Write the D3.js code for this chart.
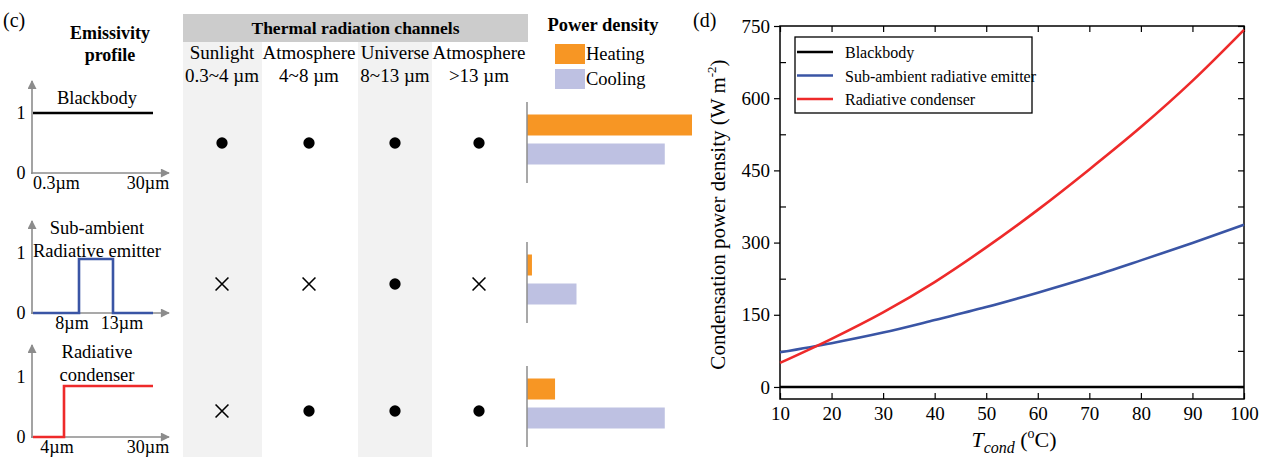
<!DOCTYPE html>
<html>
<head>
<meta charset="utf-8">
<script src="https://cdn.jsdelivr.net/npm/d3@7"></script>
<style>
  html, body { margin: 0; padding: 0; background: #fff; }
  svg { display: block; }
  svg text { font-family: "Liberation Serif", "Times New Roman", Times, serif; }
</style>
</head>
<body>
<svg id="fig" width="1267" height="460"></svg>
<script>
// ---------- Panel (c): emissivity profiles, channels, power density ----------
const structures = ["Blackbody", "Sub-ambient radiative emitter", "Radiative condenser"];
const structureTitles = [["Blackbody"], ["Sub-ambient", "Radiative emitter"], ["Radiative", "condenser"]];

// wavelength (µm) -> emissivity, step profiles
const blackbodyProfile = [[0.3, 1], [30, 1]];
const emitterProfile = [[0.3, 0], [8, 0], [8, 0.9], [13, 0.9], [13, 0], [30, 0]];
const condenserProfile = [[0.3, 0], [4, 0], [4, 0.85], [30, 0.85]];
const profiles = [blackbodyProfile, emitterProfile, condenserProfile];
const profileColors = ["#000000", "#3a55a5", "#ee2a2a"];
const profileTickLabels = [[[0.3, "0.3µm"], [30, "30µm"]], [[8, "8µm"], [13, "13µm"]], [[4, "4µm"], [30, "30µm"]]];

const channelNames = ["Sunlight", "Atmosphere", "Universe", "Atmosphere"];
const channelRanges = ["0.3~4 µm", "4~8 µm", "8~13 µm", ">13 µm"];
// 1 = channel used (dot), 0 = blocked (cross)
const channelOpen = [
  [1, 1, 1, 1],
  [0, 0, 1, 0],
  [0, 1, 1, 1]
];

// relative power density per structure
const heatingPower = [1.0, 0.03, 0.17];
const coolingPower = [0.835, 0.30, 0.835];

// ---------- Panel (d): condensation power density vs T_cond ----------
const tCond = [10, 20, 30, 40, 50, 60, 70, 80, 90, 100];
const blackbodyPower = [0, 0, 0, 0, 0, 0, 0, 0, 0, 0];
const emitterPower = [72, 91, 113, 139, 166, 196, 228, 263, 299, 337];
const condenserPower = [50, 100, 155, 218, 290, 368, 452, 540, 636, 742];
const yTicks = [0, 150, 300, 450, 600, 750];
const xTicks = [10, 20, 30, 40, 50, 60, 70, 80, 90, 100];

const svg = d3.select("#fig");
const ink = "#000";
const axisGrey = "#8c8c8c";

// ===== panel (c) =====
svg.append("text").attr("x", 3).attr("y", 27).attr("font-size", 20).text("(c)");
const epTitle = svg.append("text").attr("x", 110).attr("font-size", 18).attr("font-weight", "bold").attr("text-anchor", "middle");
epTitle.append("tspan").attr("x", 110).attr("y", 39).text("Emissivity");
epTitle.append("tspan").attr("x", 110).attr("y", 61).text("profile");

const rowCenter = [143, 283, 407];
const markY = [143, 284, 411];

const defs = svg.append("defs");
defs.append("marker").attr("id", "arrow").attr("viewBox", "0 0 10 10")
  .attr("refX", 9).attr("refY", 5).attr("markerWidth", 11).attr("markerHeight", 9)
  .attr("markerUnits", "userSpaceOnUse").attr("orient", "auto")
  .append("path").attr("d", "M0,0 L10,5 L0,10 z").attr("fill", axisGrey);

// schematic (non-linear) wavelength axis shared by the three profiles
const wl = d3.scaleLinear().domain([0.3, 4, 8, 13, 30]).range([33, 64, 79, 113, 153]);

profiles.forEach((prof, i) => {
  const zeroY = rowCenter[i] + 30;
  const em = d3.scaleLinear().domain([0, 1]).range([zeroY, zeroY - 60]);
  const g = svg.append("g");
  // axes with arrows
  g.append("line").attr("x1", 32).attr("x2", 32).attr("y1", zeroY + 1).attr("y2", zeroY - 92)
    .attr("stroke", axisGrey).attr("stroke-width", 1.6).attr("marker-end", "url(#arrow)");
  g.append("line").attr("x1", 31).attr("x2", 169).attr("y1", zeroY).attr("y2", zeroY)
    .attr("stroke", axisGrey).attr("stroke-width", 1.6).attr("marker-end", "url(#arrow)");
  g.append("text").attr("x", 21).attr("y", em(0) + 6).attr("font-size", 18).attr("text-anchor", "middle").text("0");
  g.append("text").attr("x", 21).attr("y", em(1) + 6).attr("font-size", 18).attr("text-anchor", "middle").text("1");
  const line = d3.line().x(d => wl(d[0])).y(d => em(d[1]));
  g.append("path").datum(prof).attr("d", line).attr("fill", "none")
    .attr("stroke", profileColors[i]).attr("stroke-width", 2.6);
  profileTickLabels[i].forEach(([w, lab]) => {
    const anchor = (w === 0.3) ? "start" : "middle";
    let xx = wl(w);
    if (w === 30) xx = 148;
    if (w === 4) xx = 57;
    if (w === 8) xx = 72;
    if (w === 13) xx = 122;
    g.append("text").attr("x", xx).attr("y", zeroY + 16).attr("font-size", 18)
      .attr("text-anchor", anchor).text(lab);
  });
  const titles = structureTitles[i];
  const tTop = titles.length === 1 ? rowCenter[i] - 39 : rowCenter[i] - 49;
  titles.forEach((t, k) => {
    g.append("text").attr("x", 97).attr("y", tTop + k * 23).attr("font-size", 18.5)
      .attr("text-anchor", "middle").text(t);
  });
});

// channel table
const colEdges = [183, 262, 358, 432, 528];
const colCenter = [222, 309, 395, 479];
svg.append("rect").attr("x", colEdges[0]).attr("y", 14).attr("width", colEdges[4] - colEdges[0]).attr("height", 28).attr("fill", "#cccccc");
svg.append("text").attr("x", (colEdges[0] + colEdges[4]) / 2).attr("y", 34).attr("font-size", 17.5)
  .attr("font-weight", "bold").attr("text-anchor", "middle").text("Thermal radiation channels");
[0, 2].forEach(c => {
  svg.append("rect").attr("x", colEdges[c]).attr("y", 42).attr("width", colEdges[c + 1] - colEdges[c])
    .attr("height", 415).attr("fill", "#f2f2f2");
});
channelNames.forEach((n, c) => {
  svg.append("text").attr("x", colCenter[c]).attr("y", 59).attr("font-size", 19).attr("text-anchor", "middle").text(n);
  svg.append("text").attr("x", colCenter[c]).attr("y", 82).attr("font-size", 19).attr("text-anchor", "middle").text(channelRanges[c]);
});
const dot = d3.symbol(d3.symbolCircle, 100);
const cross = d3.symbol(d3.symbolX, 110);
channelOpen.forEach((row, r) => {
  row.forEach((open, c) => {
    svg.append("path").attr("transform", `translate(${colCenter[c]},${markY[r]})`)
      .attr("d", open ? dot() : cross())
      .attr("fill", open ? ink : "none").attr("stroke", ink).attr("stroke-width", open ? 0 : 1.6);
  });
});

// power density bars
const powerX = d3.scaleLinear().domain([0, 1]).range([527, 692]);
const heatColor = "#f79624";
const coolColor = "#bec1e2";
svg.append("text").attr("x", 603).attr("y", 31).attr("font-size", 18.5).attr("font-weight", "bold")
  .attr("text-anchor", "middle").text("Power density");
[["Heating", heatColor, 44], ["Cooling", coolColor, 69]].forEach(([lab, col, yy]) => {
  svg.append("rect").attr("x", 555).attr("y", yy).attr("width", 30).attr("height", 20).attr("fill", col);
  svg.append("text").attr("x", 586).attr("y", yy + 16).attr("font-size", 18.5).text(lab);
});
structures.forEach((s, i) => {
  const c = rowCenter[i];
  svg.append("rect").attr("x", powerX(0)).attr("y", c - 28.5).attr("width", powerX(heatingPower[i]) - powerX(0))
    .attr("height", 21).attr("fill", heatColor);
  svg.append("rect").attr("x", powerX(0)).attr("y", c + 0.5).attr("width", powerX(coolingPower[i]) - powerX(0))
    .attr("height", 21).attr("fill", coolColor);
  svg.append("line").attr("x1", powerX(0)).attr("x2", powerX(0)).attr("y1", c - 41).attr("y2", c + 40)
    .attr("stroke", axisGrey).attr("stroke-width", 1.5);
});

// ===== panel (d) =====
svg.append("text").attr("x", 693).attr("y", 27).attr("font-size", 20).text("(d)");
const L = 780, R = 1244, T = 26, B = 399;
const x = d3.scaleLinear().domain([10, 100]).range([L, R]);
const y = d3.scaleLinear().domain([-25, 750]).range([B, T]);

const gd = svg.append("g");
const tickLen = 6;
const serif = "Liberation Serif, Times New Roman, Times, serif";
// left axis: labels + outward major ticks
gd.append("g").attr("transform", `translate(${L},0)`)
  .call(d3.axisLeft(y).tickValues(yTicks).tickSize(tickLen).tickPadding(4))
  .call(g => g.select(".domain").remove())
  .call(g => g.selectAll("text").attr("font-size", 19).attr("font-family", serif).attr("fill", ink));
// right axis: inward ticks incl. minor
gd.append("g").attr("transform", `translate(${R},0)`)
  .call(d3.axisLeft(y).tickValues(d3.range(0, 751, 75)).tickSize(tickLen).tickFormat(""))
  .call(g => g.select(".domain").remove());
gd.append("g").attr("transform", `translate(${L},0)`)
  .call(d3.axisRight(y).tickValues(d3.range(75, 751, 150)).tickSize(tickLen).tickFormat(""))
  .call(g => g.select(".domain").remove());
// bottom axis: inward ticks, labels below
gd.append("g").attr("transform", `translate(0,${B})`)
  .call(d3.axisTop(x).tickValues(xTicks).tickSize(tickLen).tickFormat(""))
  .call(g => g.select(".domain").remove());
gd.append("g").attr("transform", `translate(0,${B})`)
  .call(d3.axisBottom(x).tickValues(xTicks).tickSize(0).tickPadding(8))
  .call(g => g.select(".domain").remove())
  .call(g => g.selectAll("text").attr("font-size", 19).attr("font-family", serif).attr("fill", ink));
// top axis: inward ticks
gd.append("g").attr("transform", `translate(0,${T})`)
  .call(d3.axisBottom(x).tickValues(xTicks).tickSize(tickLen).tickFormat(""))
  .call(g => g.select(".domain").remove());
gd.selectAll(".tick line").attr("stroke", ink).attr("stroke-width", 1.2);
gd.append("rect").attr("x", L).attr("y", T).attr("width", R - L).attr("height", B - T)
  .attr("fill", "none").attr("stroke", ink).attr("stroke-width", 1.5);

const series = [
  { name: "Blackbody", values: blackbodyPower, color: "#000000" },
  { name: "Sub-ambient radiative emitter", values: emitterPower, color: "#3a55a5" },
  { name: "Radiative condenser", values: condenserPower, color: "#ee2a2a" }
];
const curve = d3.line().x(d => x(d[0])).y(d => y(d[1])).curve(d3.curveMonotoneX);
series.forEach(s => {
  gd.append("path").datum(tCond.map((t, i) => [t, s.values[i]]))
    .attr("d", curve).attr("fill", "none").attr("stroke", s.color).attr("stroke-width", 2.6);
});

// legend
gd.append("rect").attr("x", 795).attr("y", 37).attr("width", 237).attr("height", 76)
  .attr("fill", "#fff").attr("stroke", ink).attr("stroke-width", 1.3);
series.forEach((s, i) => {
  const ly = 52 + i * 23.5;
  gd.append("line").attr("x1", 797).attr("x2", 833).attr("y1", ly).attr("y2", ly)
    .attr("stroke", s.color).attr("stroke-width", 2.4);
  gd.append("text").attr("x", 845).attr("y", ly + 6).attr("font-size", 16).text(s.name);
});

// axis titles
const yt = gd.append("text").attr("transform", `translate(725,${(T + B) / 2 + 2}) rotate(-90)`)
  .attr("text-anchor", "middle").attr("font-size", 21);
yt.append("tspan").text("Condensation power density (W m");
yt.append("tspan").attr("font-size", 13).attr("dy", -9).text("-2");
yt.append("tspan").attr("dy", 9).text(")");

const xt = gd.append("text").attr("x", (L + R) / 2 + 2).attr("y", 447).attr("text-anchor", "middle").attr("font-size", 22);
xt.append("tspan").attr("font-style", "italic").text("T");
xt.append("tspan").attr("font-style", "italic").attr("font-size", 16).attr("dy", 6).text("cond");
xt.append("tspan").attr("dy", -6).text(" (");
xt.append("tspan").attr("font-size", 14).attr("dy", -9).text("o");
xt.append("tspan").attr("dy", 9).text("C)");
</script>
</body>
</html>
